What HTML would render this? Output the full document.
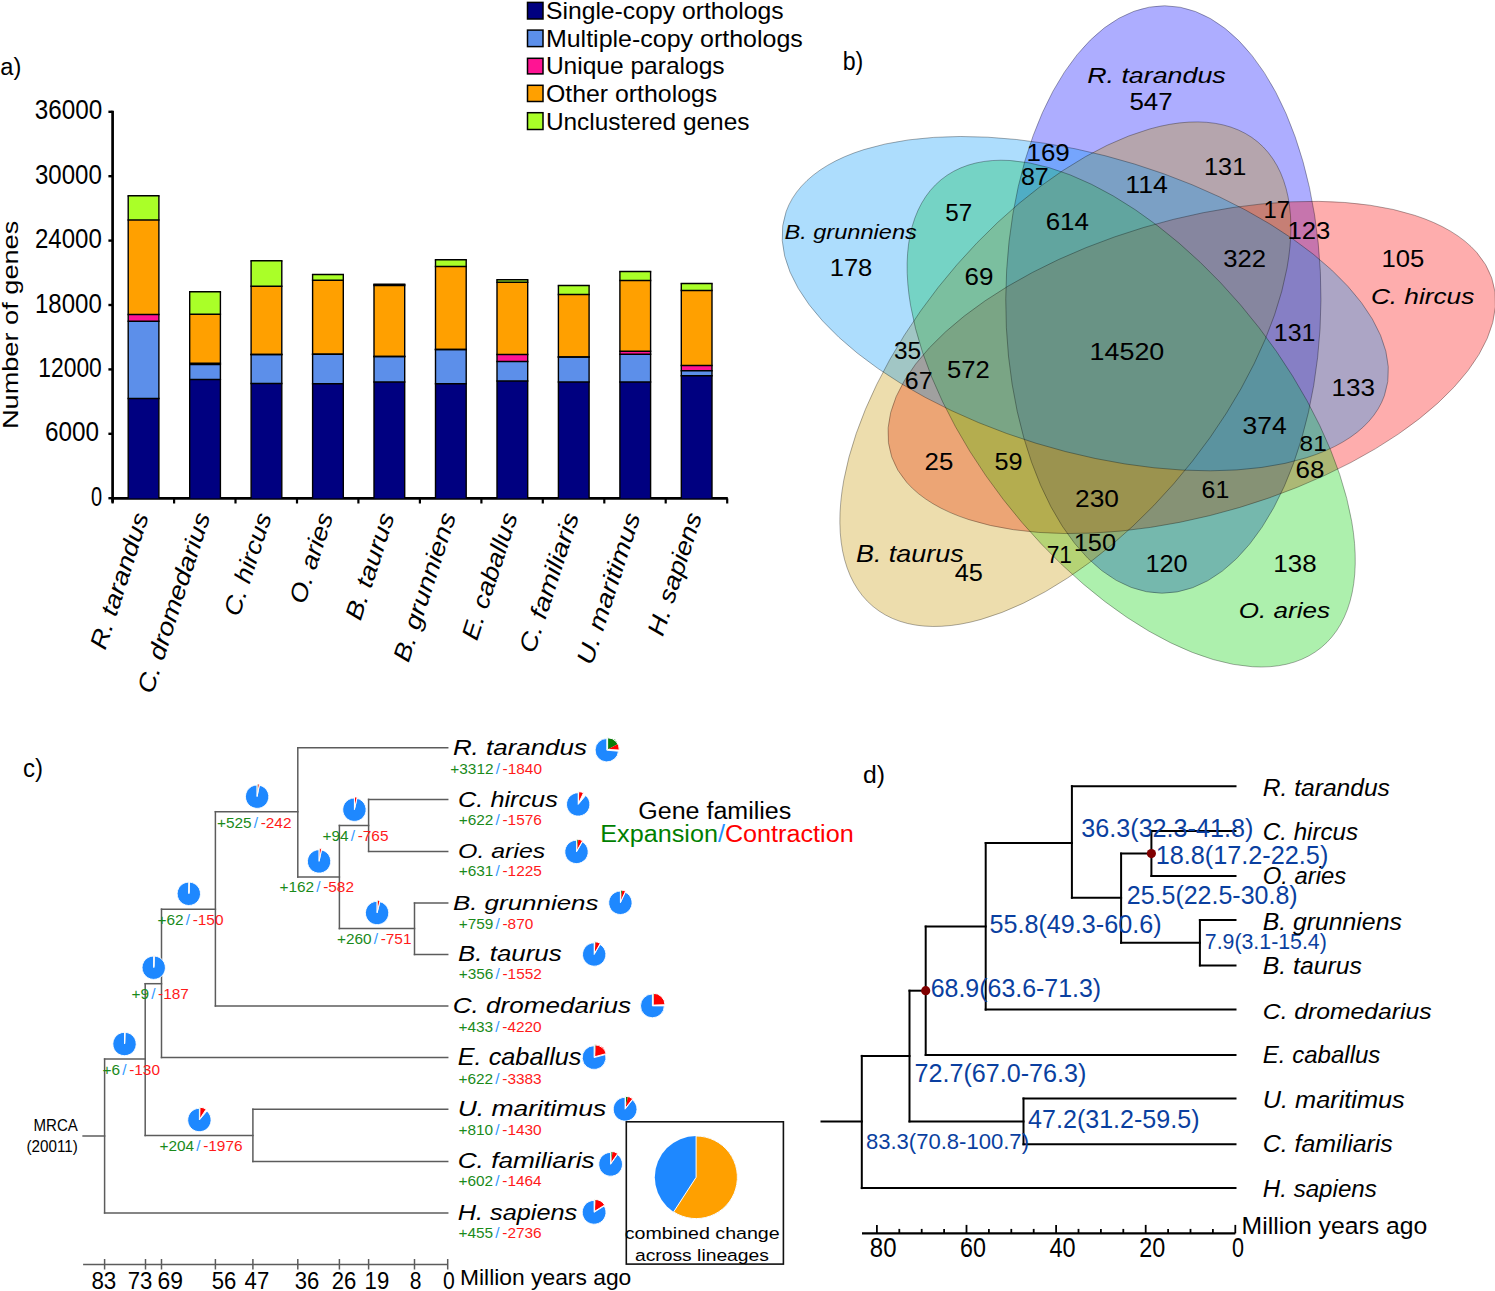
<!DOCTYPE html>
<html><head><meta charset="utf-8"><style>
html,body{margin:0;padding:0;background:#fff;}
svg{display:block;font-family:"Liberation Sans",sans-serif;}
</style></head><body>
<svg width="1495" height="1291" viewBox="0 0 1495 1291">
<rect width="1495" height="1291" fill="#fff"/>
<text x="0.3" y="75.3" font-size="24.83" fill="#000" style="" textLength="21.0" lengthAdjust="spacingAndGlyphs">a)</text>
<rect x="527.5" y="2.4" width="15.5" height="16.6" fill="#000080" stroke="#000" stroke-width="1.5"/>
<text x="545.9" y="19.2" font-size="23.60" fill="#000" style="" textLength="237.8" lengthAdjust="spacingAndGlyphs">Single-copy orthologs</text>
<rect x="527.5" y="30.1" width="15.5" height="16.5" fill="#5C8FEA" stroke="#000" stroke-width="1.5"/>
<text x="545.9" y="46.8" font-size="23.60" fill="#000" style="" textLength="256.9" lengthAdjust="spacingAndGlyphs">Multiple-copy orthologs</text>
<rect x="527.5" y="58.3" width="15.5" height="15.6" fill="#FF1493" stroke="#000" stroke-width="1.5"/>
<text x="545.9" y="74.1" font-size="23.60" fill="#000" style="" textLength="178.7" lengthAdjust="spacingAndGlyphs">Unique paralogs</text>
<rect x="527.5" y="85.3" width="15.5" height="16.2" fill="#FFA000" stroke="#000" stroke-width="1.5"/>
<text x="545.9" y="101.7" font-size="23.60" fill="#000" style="" textLength="171.4" lengthAdjust="spacingAndGlyphs">Other orthologs</text>
<rect x="527.5" y="112.7" width="15.5" height="16.8" fill="#AAFF28" stroke="#000" stroke-width="1.5"/>
<text x="545.9" y="129.7" font-size="23.60" fill="#000" style="" textLength="203.6" lengthAdjust="spacingAndGlyphs">Unclustered genes</text>
<line x1="112.6" y1="110.8" x2="112.6" y2="502.6" stroke="#000" stroke-width="2.7"/>
<line x1="108.4" y1="111.8" x2="112.6" y2="111.8" stroke="#000" stroke-width="2.4"/>
<line x1="108.4" y1="176.2" x2="112.6" y2="176.2" stroke="#000" stroke-width="2.4"/>
<line x1="108.4" y1="240.6" x2="112.6" y2="240.6" stroke="#000" stroke-width="2.4"/>
<line x1="108.4" y1="305.0" x2="112.6" y2="305.0" stroke="#000" stroke-width="2.4"/>
<line x1="108.4" y1="369.4" x2="112.6" y2="369.4" stroke="#000" stroke-width="2.4"/>
<line x1="108.4" y1="433.8" x2="112.6" y2="433.8" stroke="#000" stroke-width="2.4"/>
<line x1="108.4" y1="498.2" x2="112.6" y2="498.2" stroke="#000" stroke-width="2.4"/>
<text x="34.8" y="119.3" font-size="26.71" fill="#000" style="" textLength="67.5" lengthAdjust="spacingAndGlyphs">36000</text>
<text x="35.0" y="183.7" font-size="26.71" fill="#000" style="" textLength="66.8" lengthAdjust="spacingAndGlyphs">30000</text>
<text x="35.0" y="248.1" font-size="26.71" fill="#000" style="" textLength="66.8" lengthAdjust="spacingAndGlyphs">24000</text>
<text x="35.0" y="312.5" font-size="26.71" fill="#000" style="" textLength="66.8" lengthAdjust="spacingAndGlyphs">18000</text>
<text x="38.3" y="376.9" font-size="26.71" fill="#000" style="" textLength="63.5" lengthAdjust="spacingAndGlyphs">12000</text>
<text x="44.9" y="441.3" font-size="26.71" fill="#000" style="" textLength="54.0" lengthAdjust="spacingAndGlyphs">6000</text>
<text x="90.9" y="505.9" font-size="26.71" fill="#000" style="" textLength="11.1" lengthAdjust="spacingAndGlyphs">0</text>
<g transform="translate(17.8,429.1) rotate(-90)">
<text x="0.0" y="0.0" font-size="21.20" fill="#000" style="" textLength="208.4" lengthAdjust="spacingAndGlyphs">Number of genes</text>
</g>
<line x1="111.3" y1="498.4" x2="727.8" y2="498.4" stroke="#000" stroke-width="2.6"/>
<line x1="112.6" y1="498.4" x2="112.6" y2="503.5" stroke="#000" stroke-width="2.2"/>
<line x1="174.1" y1="498.4" x2="174.1" y2="503.5" stroke="#000" stroke-width="2.2"/>
<line x1="235.5" y1="498.4" x2="235.5" y2="503.5" stroke="#000" stroke-width="2.2"/>
<line x1="297.0" y1="498.4" x2="297.0" y2="503.5" stroke="#000" stroke-width="2.2"/>
<line x1="358.4" y1="498.4" x2="358.4" y2="503.5" stroke="#000" stroke-width="2.2"/>
<line x1="419.9" y1="498.4" x2="419.9" y2="503.5" stroke="#000" stroke-width="2.2"/>
<line x1="481.4" y1="498.4" x2="481.4" y2="503.5" stroke="#000" stroke-width="2.2"/>
<line x1="542.8" y1="498.4" x2="542.8" y2="503.5" stroke="#000" stroke-width="2.2"/>
<line x1="604.3" y1="498.4" x2="604.3" y2="503.5" stroke="#000" stroke-width="2.2"/>
<line x1="665.7" y1="498.4" x2="665.7" y2="503.5" stroke="#000" stroke-width="2.2"/>
<line x1="727.2" y1="498.4" x2="727.2" y2="503.5" stroke="#000" stroke-width="2.2"/>
<rect x="128.2" y="195.8" width="30.7" height="24.3" fill="#AAFF28"/>
<rect x="128.2" y="220.1" width="30.7" height="94.5" fill="#FFA000"/>
<rect x="128.2" y="314.6" width="30.7" height="6.7" fill="#FF1493"/>
<rect x="128.2" y="321.3" width="30.7" height="77.2" fill="#5C8FEA"/>
<rect x="128.2" y="398.5" width="30.7" height="99.9" fill="#000080"/>
<line x1="127.5" y1="195.8" x2="159.6" y2="195.8" stroke="#000" stroke-width="1.5"/>
<line x1="127.5" y1="220.1" x2="159.6" y2="220.1" stroke="#000" stroke-width="1.5"/>
<line x1="127.5" y1="314.6" x2="159.6" y2="314.6" stroke="#000" stroke-width="1.5"/>
<line x1="127.5" y1="321.3" x2="159.6" y2="321.3" stroke="#000" stroke-width="1.5"/>
<line x1="127.5" y1="398.5" x2="159.6" y2="398.5" stroke="#000" stroke-width="1.5"/>
<line x1="128.2" y1="195.8" x2="128.2" y2="498.4" stroke="#000" stroke-width="1.4"/>
<line x1="158.9" y1="195.8" x2="158.9" y2="498.4" stroke="#000" stroke-width="1.4"/>
<rect x="189.7" y="291.7" width="30.7" height="22.5" fill="#AAFF28"/>
<rect x="189.7" y="314.2" width="30.7" height="49.0" fill="#FFA000"/>
<rect x="189.7" y="363.2" width="30.7" height="1.4" fill="#FF1493"/>
<rect x="189.7" y="364.6" width="30.7" height="14.9" fill="#5C8FEA"/>
<rect x="189.7" y="379.5" width="30.7" height="118.9" fill="#000080"/>
<line x1="189.0" y1="291.7" x2="221.1" y2="291.7" stroke="#000" stroke-width="1.5"/>
<line x1="189.0" y1="314.2" x2="221.1" y2="314.2" stroke="#000" stroke-width="1.5"/>
<line x1="189.0" y1="363.2" x2="221.1" y2="363.2" stroke="#000" stroke-width="1.5"/>
<line x1="189.0" y1="364.6" x2="221.1" y2="364.6" stroke="#000" stroke-width="1.5"/>
<line x1="189.0" y1="379.5" x2="221.1" y2="379.5" stroke="#000" stroke-width="1.5"/>
<line x1="189.7" y1="291.7" x2="189.7" y2="498.4" stroke="#000" stroke-width="1.4"/>
<line x1="220.4" y1="291.7" x2="220.4" y2="498.4" stroke="#000" stroke-width="1.4"/>
<rect x="251.1" y="260.8" width="30.7" height="25.5" fill="#AAFF28"/>
<rect x="251.1" y="286.3" width="30.7" height="68.3" fill="#FFA000"/>
<rect x="251.1" y="354.6" width="30.7" height="28.9" fill="#5C8FEA"/>
<rect x="251.1" y="383.5" width="30.7" height="114.9" fill="#000080"/>
<line x1="250.4" y1="260.8" x2="282.5" y2="260.8" stroke="#000" stroke-width="1.5"/>
<line x1="250.4" y1="286.3" x2="282.5" y2="286.3" stroke="#000" stroke-width="1.5"/>
<line x1="250.4" y1="354.6" x2="282.5" y2="354.6" stroke="#000" stroke-width="1.5"/>
<line x1="250.4" y1="354.6" x2="282.5" y2="354.6" stroke="#000" stroke-width="1.5"/>
<line x1="250.4" y1="383.5" x2="282.5" y2="383.5" stroke="#000" stroke-width="1.5"/>
<line x1="251.1" y1="260.8" x2="251.1" y2="498.4" stroke="#000" stroke-width="1.4"/>
<line x1="281.8" y1="260.8" x2="281.8" y2="498.4" stroke="#000" stroke-width="1.4"/>
<rect x="312.6" y="274.6" width="30.7" height="5.6" fill="#AAFF28"/>
<rect x="312.6" y="280.2" width="30.7" height="74.1" fill="#FFA000"/>
<rect x="312.6" y="354.3" width="30.7" height="29.4" fill="#5C8FEA"/>
<rect x="312.6" y="383.7" width="30.7" height="114.7" fill="#000080"/>
<line x1="311.9" y1="274.6" x2="344.0" y2="274.6" stroke="#000" stroke-width="1.5"/>
<line x1="311.9" y1="280.2" x2="344.0" y2="280.2" stroke="#000" stroke-width="1.5"/>
<line x1="311.9" y1="354.3" x2="344.0" y2="354.3" stroke="#000" stroke-width="1.5"/>
<line x1="311.9" y1="354.3" x2="344.0" y2="354.3" stroke="#000" stroke-width="1.5"/>
<line x1="311.9" y1="383.7" x2="344.0" y2="383.7" stroke="#000" stroke-width="1.5"/>
<line x1="312.6" y1="274.6" x2="312.6" y2="498.4" stroke="#000" stroke-width="1.4"/>
<line x1="343.3" y1="274.6" x2="343.3" y2="498.4" stroke="#000" stroke-width="1.4"/>
<rect x="374.0" y="284.3" width="30.7" height="1.3" fill="#AAFF28"/>
<rect x="374.0" y="285.6" width="30.7" height="70.8" fill="#FFA000"/>
<rect x="374.0" y="356.4" width="30.7" height="25.5" fill="#5C8FEA"/>
<rect x="374.0" y="381.9" width="30.7" height="116.5" fill="#000080"/>
<line x1="373.3" y1="284.3" x2="405.4" y2="284.3" stroke="#000" stroke-width="1.5"/>
<line x1="373.3" y1="285.6" x2="405.4" y2="285.6" stroke="#000" stroke-width="1.5"/>
<line x1="373.3" y1="356.4" x2="405.4" y2="356.4" stroke="#000" stroke-width="1.5"/>
<line x1="373.3" y1="356.4" x2="405.4" y2="356.4" stroke="#000" stroke-width="1.5"/>
<line x1="373.3" y1="381.9" x2="405.4" y2="381.9" stroke="#000" stroke-width="1.5"/>
<line x1="374.0" y1="284.3" x2="374.0" y2="498.4" stroke="#000" stroke-width="1.4"/>
<line x1="404.7" y1="284.3" x2="404.7" y2="498.4" stroke="#000" stroke-width="1.4"/>
<rect x="435.5" y="259.8" width="30.7" height="6.6" fill="#AAFF28"/>
<rect x="435.5" y="266.4" width="30.7" height="83.1" fill="#FFA000"/>
<rect x="435.5" y="349.5" width="30.7" height="34.2" fill="#5C8FEA"/>
<rect x="435.5" y="383.7" width="30.7" height="114.7" fill="#000080"/>
<line x1="434.8" y1="259.8" x2="466.9" y2="259.8" stroke="#000" stroke-width="1.5"/>
<line x1="434.8" y1="266.4" x2="466.9" y2="266.4" stroke="#000" stroke-width="1.5"/>
<line x1="434.8" y1="349.5" x2="466.9" y2="349.5" stroke="#000" stroke-width="1.5"/>
<line x1="434.8" y1="349.5" x2="466.9" y2="349.5" stroke="#000" stroke-width="1.5"/>
<line x1="434.8" y1="383.7" x2="466.9" y2="383.7" stroke="#000" stroke-width="1.5"/>
<line x1="435.5" y1="259.8" x2="435.5" y2="498.4" stroke="#000" stroke-width="1.4"/>
<line x1="466.2" y1="259.8" x2="466.2" y2="498.4" stroke="#000" stroke-width="1.4"/>
<rect x="497.0" y="279.7" width="30.7" height="2.5" fill="#AAFF28"/>
<rect x="497.0" y="282.2" width="30.7" height="72.4" fill="#FFA000"/>
<rect x="497.0" y="354.6" width="30.7" height="6.9" fill="#FF1493"/>
<rect x="497.0" y="361.5" width="30.7" height="19.4" fill="#5C8FEA"/>
<rect x="497.0" y="380.9" width="30.7" height="117.5" fill="#000080"/>
<line x1="496.3" y1="279.7" x2="528.4" y2="279.7" stroke="#000" stroke-width="1.5"/>
<line x1="496.3" y1="282.2" x2="528.4" y2="282.2" stroke="#000" stroke-width="1.5"/>
<line x1="496.3" y1="354.6" x2="528.4" y2="354.6" stroke="#000" stroke-width="1.5"/>
<line x1="496.3" y1="361.5" x2="528.4" y2="361.5" stroke="#000" stroke-width="1.5"/>
<line x1="496.3" y1="380.9" x2="528.4" y2="380.9" stroke="#000" stroke-width="1.5"/>
<line x1="497.0" y1="279.7" x2="497.0" y2="498.4" stroke="#000" stroke-width="1.4"/>
<line x1="527.7" y1="279.7" x2="527.7" y2="498.4" stroke="#000" stroke-width="1.4"/>
<rect x="558.4" y="285.6" width="30.7" height="8.9" fill="#AAFF28"/>
<rect x="558.4" y="294.5" width="30.7" height="62.6" fill="#FFA000"/>
<rect x="558.4" y="357.1" width="30.7" height="24.9" fill="#5C8FEA"/>
<rect x="558.4" y="382.0" width="30.7" height="116.4" fill="#000080"/>
<line x1="557.7" y1="285.6" x2="589.8" y2="285.6" stroke="#000" stroke-width="1.5"/>
<line x1="557.7" y1="294.5" x2="589.8" y2="294.5" stroke="#000" stroke-width="1.5"/>
<line x1="557.7" y1="357.1" x2="589.8" y2="357.1" stroke="#000" stroke-width="1.5"/>
<line x1="557.7" y1="357.1" x2="589.8" y2="357.1" stroke="#000" stroke-width="1.5"/>
<line x1="557.7" y1="382.0" x2="589.8" y2="382.0" stroke="#000" stroke-width="1.5"/>
<line x1="558.4" y1="285.6" x2="558.4" y2="498.4" stroke="#000" stroke-width="1.4"/>
<line x1="589.1" y1="285.6" x2="589.1" y2="498.4" stroke="#000" stroke-width="1.4"/>
<rect x="619.9" y="271.5" width="30.7" height="9.0" fill="#AAFF28"/>
<rect x="619.9" y="280.5" width="30.7" height="70.8" fill="#FFA000"/>
<rect x="619.9" y="351.3" width="30.7" height="3.0" fill="#FF1493"/>
<rect x="619.9" y="354.3" width="30.7" height="27.7" fill="#5C8FEA"/>
<rect x="619.9" y="382.0" width="30.7" height="116.4" fill="#000080"/>
<line x1="619.2" y1="271.5" x2="651.3" y2="271.5" stroke="#000" stroke-width="1.5"/>
<line x1="619.2" y1="280.5" x2="651.3" y2="280.5" stroke="#000" stroke-width="1.5"/>
<line x1="619.2" y1="351.3" x2="651.3" y2="351.3" stroke="#000" stroke-width="1.5"/>
<line x1="619.2" y1="354.3" x2="651.3" y2="354.3" stroke="#000" stroke-width="1.5"/>
<line x1="619.2" y1="382.0" x2="651.3" y2="382.0" stroke="#000" stroke-width="1.5"/>
<line x1="619.9" y1="271.5" x2="619.9" y2="498.4" stroke="#000" stroke-width="1.4"/>
<line x1="650.6" y1="271.5" x2="650.6" y2="498.4" stroke="#000" stroke-width="1.4"/>
<rect x="681.3" y="283.5" width="30.7" height="6.9" fill="#AAFF28"/>
<rect x="681.3" y="290.4" width="30.7" height="75.2" fill="#FFA000"/>
<rect x="681.3" y="365.6" width="30.7" height="5.1" fill="#FF1493"/>
<rect x="681.3" y="370.7" width="30.7" height="5.1" fill="#5C8FEA"/>
<rect x="681.3" y="375.8" width="30.7" height="122.6" fill="#000080"/>
<line x1="680.6" y1="283.5" x2="712.7" y2="283.5" stroke="#000" stroke-width="1.5"/>
<line x1="680.6" y1="290.4" x2="712.7" y2="290.4" stroke="#000" stroke-width="1.5"/>
<line x1="680.6" y1="365.6" x2="712.7" y2="365.6" stroke="#000" stroke-width="1.5"/>
<line x1="680.6" y1="370.7" x2="712.7" y2="370.7" stroke="#000" stroke-width="1.5"/>
<line x1="680.6" y1="375.8" x2="712.7" y2="375.8" stroke="#000" stroke-width="1.5"/>
<line x1="681.3" y1="283.5" x2="681.3" y2="498.4" stroke="#000" stroke-width="1.4"/>
<line x1="712.0" y1="283.5" x2="712.0" y2="498.4" stroke="#000" stroke-width="1.4"/>
<text x="0" y="0" font-size="24.2" style="font-style:italic" text-anchor="end" textLength="141.7" lengthAdjust="spacingAndGlyphs" transform="translate(149.0,516.0) rotate(-72)">R. tarandus</text>
<text x="0" y="0" font-size="24.2" style="font-style:italic" text-anchor="end" textLength="188.0" lengthAdjust="spacingAndGlyphs" transform="translate(210.5,516.0) rotate(-72)">C. dromedarius</text>
<text x="0" y="0" font-size="24.2" style="font-style:italic" text-anchor="end" textLength="106.8" lengthAdjust="spacingAndGlyphs" transform="translate(271.9,516.0) rotate(-72)">C. hircus</text>
<text x="0" y="0" font-size="24.2" style="font-style:italic" text-anchor="end" textLength="93.6" lengthAdjust="spacingAndGlyphs" transform="translate(333.4,516.0) rotate(-72)">O. aries</text>
<text x="0" y="0" font-size="24.2" style="font-style:italic" text-anchor="end" textLength="110.9" lengthAdjust="spacingAndGlyphs" transform="translate(394.8,516.0) rotate(-72)">B. taurus</text>
<text x="0" y="0" font-size="24.2" style="font-style:italic" text-anchor="end" textLength="154.8" lengthAdjust="spacingAndGlyphs" transform="translate(456.3,516.0) rotate(-72)">B. grunniens</text>
<text x="0" y="0" font-size="24.2" style="font-style:italic" text-anchor="end" textLength="132.0" lengthAdjust="spacingAndGlyphs" transform="translate(517.8,516.0) rotate(-72)">E. caballus</text>
<text x="0" y="0" font-size="24.2" style="font-style:italic" text-anchor="end" textLength="145.3" lengthAdjust="spacingAndGlyphs" transform="translate(579.2,516.0) rotate(-72)">C. familiaris</text>
<text x="0" y="0" font-size="24.2" style="font-style:italic" text-anchor="end" textLength="157.8" lengthAdjust="spacingAndGlyphs" transform="translate(640.7,516.0) rotate(-72)">U. maritimus</text>
<text x="0" y="0" font-size="24.2" style="font-style:italic" text-anchor="end" textLength="127.5" lengthAdjust="spacingAndGlyphs" transform="translate(702.1,516.0) rotate(-72)">H. sapiens</text>
<text x="842.7" y="69.9" font-size="25.24" fill="#000" style="" textLength="20.6" lengthAdjust="spacingAndGlyphs">b)</text>
<g transform="translate(1127.38,351.68) scale(1.0724,1)">
<ellipse cx="0" cy="0" rx="146.96" ry="293.73" transform="translate(33.54,-52.20) rotate(0.26)" fill="#0000FF" fill-opacity="0.32"/>
<ellipse cx="0" cy="0" rx="146.96" ry="293.73" transform="translate(60.01,15.77) rotate(72.26)" fill="#FB0000" fill-opacity="0.32"/>
<ellipse cx="0" cy="0" rx="146.96" ry="293.73" transform="translate(3.55,61.94) rotate(144.26)" fill="#00D000" fill-opacity="0.32"/>
<ellipse cx="0" cy="0" rx="146.96" ry="293.73" transform="translate(-57.82,22.52) rotate(216.26)" fill="#C89500" fill-opacity="0.32"/>
<ellipse cx="0" cy="0" rx="146.96" ry="293.73" transform="translate(-39.28,-48.03) rotate(288.26)" fill="#0094F8" fill-opacity="0.32"/>
<ellipse cx="0" cy="0" rx="146.96" ry="293.73" transform="translate(33.54,-52.20) rotate(0.26)" fill="none" stroke="#000" stroke-opacity="0.4" stroke-width="0.8" vector-effect="non-scaling-stroke"/>
<ellipse cx="0" cy="0" rx="146.96" ry="293.73" transform="translate(60.01,15.77) rotate(72.26)" fill="none" stroke="#000" stroke-opacity="0.4" stroke-width="0.8" vector-effect="non-scaling-stroke"/>
<ellipse cx="0" cy="0" rx="146.96" ry="293.73" transform="translate(3.55,61.94) rotate(144.26)" fill="none" stroke="#000" stroke-opacity="0.4" stroke-width="0.8" vector-effect="non-scaling-stroke"/>
<ellipse cx="0" cy="0" rx="146.96" ry="293.73" transform="translate(-57.82,22.52) rotate(216.26)" fill="none" stroke="#000" stroke-opacity="0.4" stroke-width="0.8" vector-effect="non-scaling-stroke"/>
<ellipse cx="0" cy="0" rx="146.96" ry="293.73" transform="translate(-39.28,-48.03) rotate(288.26)" fill="none" stroke="#000" stroke-opacity="0.4" stroke-width="0.8" vector-effect="non-scaling-stroke"/>
</g>
<text x="1087.2" y="82.5" font-size="22.21" fill="#000" style="font-style:italic;" textLength="138.5" lengthAdjust="spacingAndGlyphs">R. tarandus</text>
<text x="1129.4" y="110.2" font-size="23.84" fill="#000" style="" textLength="43.3" lengthAdjust="spacingAndGlyphs">547</text>
<text x="1026.5" y="160.5" font-size="23.50" fill="#000" style="" textLength="43.3" lengthAdjust="spacingAndGlyphs">169</text>
<text x="1020.9" y="184.5" font-size="24.07" fill="#000" style="" textLength="27.9" lengthAdjust="spacingAndGlyphs">87</text>
<text x="945.3" y="220.7" font-size="23.84" fill="#000" style="" textLength="27.0" lengthAdjust="spacingAndGlyphs">57</text>
<text x="784.4" y="239.2" font-size="20.00" fill="#000" style="font-style:italic;" textLength="132.5" lengthAdjust="spacingAndGlyphs">B. grunniens</text>
<text x="829.7" y="276.0" font-size="23.35" fill="#000" style="" textLength="42.6" lengthAdjust="spacingAndGlyphs">178</text>
<text x="1045.7" y="230.0" font-size="23.78" fill="#000" style="" textLength="43.3" lengthAdjust="spacingAndGlyphs">614</text>
<text x="964.6" y="285.0" font-size="24.21" fill="#000" style="" textLength="28.9" lengthAdjust="spacingAndGlyphs">69</text>
<text x="894.0" y="359.1" font-size="23.50" fill="#000" style="" textLength="27.2" lengthAdjust="spacingAndGlyphs">35</text>
<text x="904.8" y="388.5" font-size="23.07" fill="#000" style="" textLength="27.7" lengthAdjust="spacingAndGlyphs">67</text>
<text x="947.0" y="377.7" font-size="24.21" fill="#000" style="" textLength="42.8" lengthAdjust="spacingAndGlyphs">572</text>
<text x="1204.0" y="174.7" font-size="23.35" fill="#000" style="" textLength="42.2" lengthAdjust="spacingAndGlyphs">131</text>
<text x="1125.3" y="193.3" font-size="24.56" fill="#000" style="" textLength="42.6" lengthAdjust="spacingAndGlyphs">114</text>
<text x="1263.5" y="217.8" font-size="23.40" fill="#000" style="" textLength="26.5" lengthAdjust="spacingAndGlyphs">17</text>
<text x="1287.6" y="239.0" font-size="23.78" fill="#000" style="" textLength="42.8" lengthAdjust="spacingAndGlyphs">123</text>
<text x="1223.3" y="267.2" font-size="24.21" fill="#000" style="" textLength="42.8" lengthAdjust="spacingAndGlyphs">322</text>
<text x="1381.5" y="266.7" font-size="23.50" fill="#000" style="" textLength="42.8" lengthAdjust="spacingAndGlyphs">105</text>
<text x="1370.9" y="304.4" font-size="22.21" fill="#000" style="font-style:italic;" textLength="103.4" lengthAdjust="spacingAndGlyphs">C. hircus</text>
<text x="1273.8" y="341.4" font-size="24.21" fill="#000" style="" textLength="41.7" lengthAdjust="spacingAndGlyphs">131</text>
<text x="1089.6" y="359.6" font-size="23.21" fill="#000" style="" textLength="74.7" lengthAdjust="spacingAndGlyphs">14520</text>
<text x="1331.6" y="396.4" font-size="23.50" fill="#000" style="" textLength="43.4" lengthAdjust="spacingAndGlyphs">133</text>
<text x="1242.5" y="433.5" font-size="24.21" fill="#000" style="" textLength="44.1" lengthAdjust="spacingAndGlyphs">374</text>
<text x="1299.6" y="451.0" font-size="22.35" fill="#000" style="" textLength="27.2" lengthAdjust="spacingAndGlyphs">81</text>
<text x="1295.5" y="478.3" font-size="23.50" fill="#000" style="" textLength="28.9" lengthAdjust="spacingAndGlyphs">68</text>
<text x="1201.6" y="497.5" font-size="23.35" fill="#000" style="" textLength="27.7" lengthAdjust="spacingAndGlyphs">61</text>
<text x="1075.1" y="506.7" font-size="23.50" fill="#000" style="" textLength="43.9" lengthAdjust="spacingAndGlyphs">230</text>
<text x="924.6" y="469.8" font-size="23.35" fill="#000" style="" textLength="28.7" lengthAdjust="spacingAndGlyphs">25</text>
<text x="994.5" y="469.8" font-size="23.35" fill="#000" style="" textLength="28.1" lengthAdjust="spacingAndGlyphs">59</text>
<text x="1073.7" y="551.2" font-size="23.50" fill="#000" style="" textLength="42.4" lengthAdjust="spacingAndGlyphs">150</text>
<text x="1046.7" y="562.5" font-size="24.42" fill="#000" style="" textLength="25.3" lengthAdjust="spacingAndGlyphs">71</text>
<text x="856.0" y="561.8" font-size="23.40" fill="#000" style="font-style:italic;" textLength="107.6" lengthAdjust="spacingAndGlyphs">B. taurus</text>
<text x="954.7" y="581.1" font-size="23.40" fill="#000" style="" textLength="28.2" lengthAdjust="spacingAndGlyphs">45</text>
<text x="1145.4" y="572.2" font-size="24.21" fill="#000" style="" textLength="42.2" lengthAdjust="spacingAndGlyphs">120</text>
<text x="1273.3" y="571.7" font-size="23.50" fill="#000" style="" textLength="43.3" lengthAdjust="spacingAndGlyphs">138</text>
<text x="1238.8" y="618.4" font-size="22.21" fill="#000" style="font-style:italic;" textLength="91.1" lengthAdjust="spacingAndGlyphs">O. aries</text>
<text x="23.1" y="776.9" font-size="25.38" fill="#000" style="" textLength="20.0" lengthAdjust="spacingAndGlyphs">c)</text>
<line x1="297.8" y1="747.7" x2="447.7" y2="747.7" stroke="#5c5c5c" stroke-width="1.5" stroke-linecap="square"/>
<line x1="297.8" y1="747.7" x2="297.8" y2="876.9" stroke="#5c5c5c" stroke-width="1.5" stroke-linecap="square"/>
<line x1="297.8" y1="876.9" x2="339.4" y2="876.9" stroke="#5c5c5c" stroke-width="1.5" stroke-linecap="square"/>
<line x1="339.4" y1="825.5" x2="339.4" y2="928.6" stroke="#5c5c5c" stroke-width="1.5" stroke-linecap="square"/>
<line x1="339.4" y1="825.5" x2="368.6" y2="825.5" stroke="#5c5c5c" stroke-width="1.5" stroke-linecap="square"/>
<line x1="368.6" y1="799.4" x2="368.6" y2="851.4" stroke="#5c5c5c" stroke-width="1.5" stroke-linecap="square"/>
<line x1="368.6" y1="799.4" x2="447.7" y2="799.4" stroke="#5c5c5c" stroke-width="1.5" stroke-linecap="square"/>
<line x1="368.6" y1="851.4" x2="447.7" y2="851.4" stroke="#5c5c5c" stroke-width="1.5" stroke-linecap="square"/>
<line x1="339.4" y1="928.6" x2="414.5" y2="928.6" stroke="#5c5c5c" stroke-width="1.5" stroke-linecap="square"/>
<line x1="414.5" y1="903.1" x2="414.5" y2="954.5" stroke="#5c5c5c" stroke-width="1.5" stroke-linecap="square"/>
<line x1="414.5" y1="903.1" x2="447.7" y2="903.1" stroke="#5c5c5c" stroke-width="1.5" stroke-linecap="square"/>
<line x1="414.5" y1="954.5" x2="447.7" y2="954.5" stroke="#5c5c5c" stroke-width="1.5" stroke-linecap="square"/>
<line x1="215.4" y1="811.7" x2="215.4" y2="1006.0" stroke="#5c5c5c" stroke-width="1.5" stroke-linecap="square"/>
<line x1="215.4" y1="811.7" x2="297.8" y2="811.7" stroke="#5c5c5c" stroke-width="1.5" stroke-linecap="square"/>
<line x1="215.4" y1="1006.0" x2="447.7" y2="1006.0" stroke="#5c5c5c" stroke-width="1.5" stroke-linecap="square"/>
<line x1="161.5" y1="909.2" x2="215.4" y2="909.2" stroke="#5c5c5c" stroke-width="1.5" stroke-linecap="square"/>
<line x1="161.5" y1="909.2" x2="161.5" y2="1057.5" stroke="#5c5c5c" stroke-width="1.5" stroke-linecap="square"/>
<line x1="161.5" y1="1057.5" x2="447.7" y2="1057.5" stroke="#5c5c5c" stroke-width="1.5" stroke-linecap="square"/>
<line x1="145.2" y1="983.7" x2="161.5" y2="983.7" stroke="#5c5c5c" stroke-width="1.5" stroke-linecap="square"/>
<line x1="145.2" y1="983.7" x2="145.2" y2="1135.4" stroke="#5c5c5c" stroke-width="1.5" stroke-linecap="square"/>
<line x1="145.2" y1="1135.4" x2="252.9" y2="1135.4" stroke="#5c5c5c" stroke-width="1.5" stroke-linecap="square"/>
<line x1="252.9" y1="1109.2" x2="252.9" y2="1161.5" stroke="#5c5c5c" stroke-width="1.5" stroke-linecap="square"/>
<line x1="252.9" y1="1109.2" x2="447.7" y2="1109.2" stroke="#5c5c5c" stroke-width="1.5" stroke-linecap="square"/>
<line x1="252.9" y1="1161.5" x2="447.7" y2="1161.5" stroke="#5c5c5c" stroke-width="1.5" stroke-linecap="square"/>
<line x1="104.6" y1="1059.1" x2="145.2" y2="1059.1" stroke="#5c5c5c" stroke-width="1.5" stroke-linecap="square"/>
<line x1="104.6" y1="1059.1" x2="104.6" y2="1212.9" stroke="#5c5c5c" stroke-width="1.5" stroke-linecap="square"/>
<line x1="104.6" y1="1212.9" x2="447.7" y2="1212.9" stroke="#5c5c5c" stroke-width="1.5" stroke-linecap="square"/>
<line x1="83.1" y1="1136.0" x2="104.6" y2="1136.0" stroke="#5c5c5c" stroke-width="1.5" stroke-linecap="square"/>
<line x1="83.1" y1="1264.6" x2="447.7" y2="1264.6" stroke="#5c5c5c" stroke-width="1.5"/>
<line x1="104.6" y1="1259.0" x2="104.6" y2="1269.5" stroke="#5c5c5c" stroke-width="1.5"/>
<line x1="145.5" y1="1259.0" x2="145.5" y2="1269.5" stroke="#5c5c5c" stroke-width="1.5"/>
<line x1="161.5" y1="1259.0" x2="161.5" y2="1269.5" stroke="#5c5c5c" stroke-width="1.5"/>
<line x1="215.4" y1="1259.0" x2="215.4" y2="1269.5" stroke="#5c5c5c" stroke-width="1.5"/>
<line x1="252.9" y1="1259.0" x2="252.9" y2="1269.5" stroke="#5c5c5c" stroke-width="1.5"/>
<line x1="297.8" y1="1259.0" x2="297.8" y2="1269.5" stroke="#5c5c5c" stroke-width="1.5"/>
<line x1="339.4" y1="1259.0" x2="339.4" y2="1269.5" stroke="#5c5c5c" stroke-width="1.5"/>
<line x1="368.6" y1="1259.0" x2="368.6" y2="1269.5" stroke="#5c5c5c" stroke-width="1.5"/>
<line x1="414.5" y1="1259.0" x2="414.5" y2="1269.5" stroke="#5c5c5c" stroke-width="1.5"/>
<line x1="447.7" y1="1259.0" x2="447.7" y2="1269.5" stroke="#5c5c5c" stroke-width="1.5"/>
<text x="91.4" y="1289.2" font-size="23.71" fill="#000" style="" textLength="24.9" lengthAdjust="spacingAndGlyphs">83</text>
<text x="127.7" y="1289.2" font-size="23.71" fill="#000" style="" textLength="24.6" lengthAdjust="spacingAndGlyphs">73</text>
<text x="157.5" y="1289.2" font-size="23.71" fill="#000" style="" textLength="25.5" lengthAdjust="spacingAndGlyphs">69</text>
<text x="211.7" y="1289.2" font-size="23.71" fill="#000" style="" textLength="24.6" lengthAdjust="spacingAndGlyphs">56</text>
<text x="244.6" y="1289.2" font-size="23.71" fill="#000" style="" textLength="24.6" lengthAdjust="spacingAndGlyphs">47</text>
<text x="294.8" y="1289.2" font-size="23.71" fill="#000" style="" textLength="24.6" lengthAdjust="spacingAndGlyphs">36</text>
<text x="331.7" y="1289.2" font-size="23.71" fill="#000" style="" textLength="24.6" lengthAdjust="spacingAndGlyphs">26</text>
<text x="364.6" y="1289.2" font-size="23.71" fill="#000" style="" textLength="24.6" lengthAdjust="spacingAndGlyphs">19</text>
<text x="409.8" y="1289.2" font-size="23.71" fill="#000" style="" textLength="11.7" lengthAdjust="spacingAndGlyphs">8</text>
<text x="443.0" y="1289.2" font-size="23.71" fill="#000" style="" textLength="11.8" lengthAdjust="spacingAndGlyphs">0</text>
<text x="460.0" y="1284.7" font-size="21.66" fill="#000" style="" textLength="171.3" lengthAdjust="spacingAndGlyphs">Million years ago</text>
<text x="33.5" y="1130.8" font-size="16.05" fill="#000" style="" textLength="44.3" lengthAdjust="spacingAndGlyphs">MRCA</text>
<text x="26.5" y="1151.9" font-size="15.59" fill="#000" style="" textLength="51.3" lengthAdjust="spacingAndGlyphs">(20011)</text>
<text x="452.9" y="755.2" font-size="21.93" fill="#000" style="font-style:italic;" textLength="134.0" lengthAdjust="spacingAndGlyphs">R. tarandus</text>
<text x="450.3" y="773.6" font-size="15.4"><tspan fill="#1A8A1A">+3312</tspan><tspan fill="#3399FF" dx="2.2">/</tspan><tspan fill="#FF1A1A" dx="2.6">-1840</tspan></text>
<text x="458.1" y="806.5" font-size="21.38" fill="#000" style="font-style:italic;" textLength="99.7" lengthAdjust="spacingAndGlyphs">C. hircus</text>
<text x="458.7" y="824.9" font-size="15.4"><tspan fill="#1A8A1A">+622</tspan><tspan fill="#3399FF" dx="2.2">/</tspan><tspan fill="#FF1A1A" dx="2.6">-1576</tspan></text>
<text x="458.1" y="858.2" font-size="21.10" fill="#000" style="font-style:italic;" textLength="87.1" lengthAdjust="spacingAndGlyphs">O. aries</text>
<text x="458.7" y="876.2" font-size="15.4"><tspan fill="#1A8A1A">+631</tspan><tspan fill="#3399FF" dx="2.2">/</tspan><tspan fill="#FF1A1A" dx="2.6">-1225</tspan></text>
<text x="452.9" y="909.7" font-size="20.00" fill="#000" style="font-style:italic;" textLength="145.6" lengthAdjust="spacingAndGlyphs">B. grunniens</text>
<text x="458.7" y="928.5" font-size="15.4"><tspan fill="#1A8A1A">+759</tspan><tspan fill="#3399FF" dx="2.2">/</tspan><tspan fill="#FF1A1A" dx="2.6">-870</tspan></text>
<text x="458.1" y="961.4" font-size="21.66" fill="#000" style="font-style:italic;" textLength="103.6" lengthAdjust="spacingAndGlyphs">B. taurus</text>
<text x="458.7" y="978.8" font-size="15.4"><tspan fill="#1A8A1A">+356</tspan><tspan fill="#3399FF" dx="2.2">/</tspan><tspan fill="#FF1A1A" dx="2.6">-1552</tspan></text>
<text x="452.8" y="1012.7" font-size="22.90" fill="#000" style="font-style:italic;" textLength="178.2" lengthAdjust="spacingAndGlyphs">C. dromedarius</text>
<text x="458.5" y="1032.0" font-size="15.4"><tspan fill="#1A8A1A">+433</tspan><tspan fill="#3399FF" dx="2.2">/</tspan><tspan fill="#FF1A1A" dx="2.6">-4220</tspan></text>
<text x="457.7" y="1064.9" font-size="23.17" fill="#000" style="font-style:italic;" textLength="123.8" lengthAdjust="spacingAndGlyphs">E. caballus</text>
<text x="458.5" y="1083.5" font-size="15.4"><tspan fill="#1A8A1A">+622</tspan><tspan fill="#3399FF" dx="2.2">/</tspan><tspan fill="#FF1A1A" dx="2.6">-3383</tspan></text>
<text x="457.7" y="1116.1" font-size="22.21" fill="#000" style="font-style:italic;" textLength="148.5" lengthAdjust="spacingAndGlyphs">U. maritimus</text>
<text x="458.5" y="1134.7" font-size="15.4"><tspan fill="#1A8A1A">+810</tspan><tspan fill="#3399FF" dx="2.2">/</tspan><tspan fill="#FF1A1A" dx="2.6">-1430</tspan></text>
<text x="457.7" y="1168.1" font-size="22.21" fill="#000" style="font-style:italic;" textLength="136.9" lengthAdjust="spacingAndGlyphs">C. familiaris</text>
<text x="458.5" y="1185.9" font-size="15.4"><tspan fill="#1A8A1A">+602</tspan><tspan fill="#3399FF" dx="2.2">/</tspan><tspan fill="#FF1A1A" dx="2.6">-1464</tspan></text>
<text x="457.7" y="1220.1" font-size="22.21" fill="#000" style="font-style:italic;" textLength="119.6" lengthAdjust="spacingAndGlyphs">H. sapiens</text>
<text x="458.5" y="1237.9" font-size="15.4"><tspan fill="#1A8A1A">+455</tspan><tspan fill="#3399FF" dx="2.2">/</tspan><tspan fill="#FF1A1A" dx="2.6">-2736</tspan></text>
<text x="216.9" y="827.7" font-size="15.4"><tspan fill="#1A8A1A">+525</tspan><tspan fill="#3399FF" dx="2.2">/</tspan><tspan fill="#FF1A1A" dx="2.6">-242</tspan></text>
<text x="322.5" y="840.6" font-size="15.4"><tspan fill="#1A8A1A">+94</tspan><tspan fill="#3399FF" dx="2.2">/</tspan><tspan fill="#FF1A1A" dx="2.6">-765</tspan></text>
<text x="279.4" y="891.7" font-size="15.4"><tspan fill="#1A8A1A">+162</tspan><tspan fill="#3399FF" dx="2.2">/</tspan><tspan fill="#FF1A1A" dx="2.6">-582</tspan></text>
<text x="157.5" y="924.6" font-size="15.4"><tspan fill="#1A8A1A">+62</tspan><tspan fill="#3399FF" dx="2.2">/</tspan><tspan fill="#FF1A1A" dx="2.6">-150</tspan></text>
<text x="336.9" y="943.7" font-size="15.4"><tspan fill="#1A8A1A">+260</tspan><tspan fill="#3399FF" dx="2.2">/</tspan><tspan fill="#FF1A1A" dx="2.6">-751</tspan></text>
<text x="131.4" y="998.5" font-size="15.4"><tspan fill="#1A8A1A">+9</tspan><tspan fill="#3399FF" dx="2.2">/</tspan><tspan fill="#FF1A1A" dx="2.6">-187</tspan></text>
<text x="102.5" y="1074.5" font-size="15.4"><tspan fill="#1A8A1A">+6</tspan><tspan fill="#3399FF" dx="2.2">/</tspan><tspan fill="#FF1A1A" dx="2.6">-130</tspan></text>
<text x="159.4" y="1150.8" font-size="15.4"><tspan fill="#1A8A1A">+204</tspan><tspan fill="#3399FF" dx="2.2">/</tspan><tspan fill="#FF1A1A" dx="2.6">-1976</tspan></text>
<path d="M606.80,750.20 L618.46,751.22 A11.70,11.70 0 1 1 606.80,738.50 Z" fill="#1E88FF" stroke="#fff" stroke-width="0.9" stroke-linejoin="round"/>
<path d="M607.61,749.46 L607.61,737.76 A11.70,11.70 0 0 1 617.94,743.96 Z" fill="#0A7D0A" stroke="none" stroke-width="1.0" stroke-linejoin="round"/>
<path d="M607.61,749.46 L617.94,743.96 A11.70,11.70 0 0 1 619.29,750.07 Z" fill="#FF0000" stroke="none" stroke-width="1.0" stroke-linejoin="round"/>
<path d="M607.61,749.46 L607.61,737.76 A11.70,11.70 0 0 1 619.29,750.07 Z" fill="none" stroke="#fff" stroke-width="1.0" stroke-linejoin="round"/>
<path d="M578.20,804.40 L585.72,795.44 A11.70,11.70 0 1 1 578.20,792.70 Z" fill="#1E88FF" stroke="#fff" stroke-width="0.9" stroke-linejoin="round"/>
<path d="M578.58,803.37 L578.58,791.67 A11.70,11.70 0 0 1 579.19,791.68 Z" fill="#0A7D0A" stroke="none" stroke-width="1.0" stroke-linejoin="round"/>
<path d="M578.58,803.37 L579.19,791.68 A11.70,11.70 0 0 1 583.52,792.76 Z" fill="#FF0000" stroke="none" stroke-width="1.0" stroke-linejoin="round"/>
<path d="M578.58,803.37 L578.58,791.67 A11.70,11.70 0 0 1 583.52,792.76 Z" fill="none" stroke="#fff" stroke-width="1.0" stroke-linejoin="round"/>
<path d="M576.50,851.90 L582.35,841.77 A11.70,11.70 0 1 1 576.50,840.20 Z" fill="#1E88FF" stroke="#fff" stroke-width="0.9" stroke-linejoin="round"/>
<path d="M576.78,850.84 L576.78,839.14 A11.70,11.70 0 0 1 578.41,839.25 Z" fill="#0A7D0A" stroke="none" stroke-width="1.0" stroke-linejoin="round"/>
<path d="M576.78,850.84 L578.41,839.25 A11.70,11.70 0 0 1 582.63,840.70 Z" fill="#FF0000" stroke="none" stroke-width="1.0" stroke-linejoin="round"/>
<path d="M576.78,850.84 L576.78,839.14 A11.70,11.70 0 0 1 582.63,840.70 Z" fill="none" stroke="#fff" stroke-width="1.0" stroke-linejoin="round"/>
<path d="M620.40,902.80 L625.34,892.20 A11.70,11.70 0 1 1 620.40,891.10 Z" fill="#1E88FF" stroke="#fff" stroke-width="0.9" stroke-linejoin="round"/>
<path d="M620.64,901.73 L620.64,890.03 A11.70,11.70 0 0 1 622.27,890.14 Z" fill="#0A7D0A" stroke="none" stroke-width="1.0" stroke-linejoin="round"/>
<path d="M620.64,901.73 L622.27,890.14 A11.70,11.70 0 0 1 625.58,891.12 Z" fill="#FF0000" stroke="none" stroke-width="1.0" stroke-linejoin="round"/>
<path d="M620.64,901.73 L620.64,890.03 A11.70,11.70 0 0 1 625.58,891.12 Z" fill="none" stroke="#fff" stroke-width="1.0" stroke-linejoin="round"/>
<path d="M594.20,954.50 L600.05,944.37 A11.70,11.70 0 1 1 594.20,942.80 Z" fill="#1E88FF" stroke="#fff" stroke-width="0.9" stroke-linejoin="round"/>
<path d="M594.48,953.44 L594.48,941.74 A11.70,11.70 0 0 1 595.71,941.80 Z" fill="#0A7D0A" stroke="none" stroke-width="1.0" stroke-linejoin="round"/>
<path d="M594.48,953.44 L595.71,941.80 A11.70,11.70 0 0 1 600.33,943.30 Z" fill="#FF0000" stroke="none" stroke-width="1.0" stroke-linejoin="round"/>
<path d="M594.48,953.44 L594.48,941.74 A11.70,11.70 0 0 1 600.33,943.30 Z" fill="none" stroke="#fff" stroke-width="1.0" stroke-linejoin="round"/>
<path d="M652.40,1005.90 L664.30,1005.90 A11.90,11.90 0 1 1 652.40,994.00 Z" fill="#1E88FF" stroke="#fff" stroke-width="0.9" stroke-linejoin="round"/>
<path d="M653.18,1005.12 L653.18,993.22 A11.90,11.90 0 0 1 654.21,993.27 Z" fill="#0A7D0A" stroke="none" stroke-width="1.0" stroke-linejoin="round"/>
<path d="M653.18,1005.12 L654.21,993.27 A11.90,11.90 0 0 1 665.07,1004.71 Z" fill="#FF0000" stroke="none" stroke-width="1.0" stroke-linejoin="round"/>
<path d="M653.18,1005.12 L653.18,993.22 A11.90,11.90 0 0 1 665.07,1004.71 Z" fill="none" stroke="#fff" stroke-width="1.0" stroke-linejoin="round"/>
<path d="M594.10,1057.60 L605.59,1054.52 A11.90,11.90 0 1 1 594.10,1045.70 Z" fill="#1E88FF" stroke="#fff" stroke-width="0.9" stroke-linejoin="round"/>
<path d="M594.77,1056.73 L594.77,1044.83 A11.90,11.90 0 0 1 595.81,1044.87 Z" fill="#0A7D0A" stroke="none" stroke-width="1.0" stroke-linejoin="round"/>
<path d="M594.77,1056.73 L595.81,1044.87 A11.90,11.90 0 0 1 606.26,1053.65 Z" fill="#FF0000" stroke="none" stroke-width="1.0" stroke-linejoin="round"/>
<path d="M594.77,1056.73 L594.77,1044.83 A11.90,11.90 0 0 1 606.26,1053.65 Z" fill="none" stroke="#fff" stroke-width="1.0" stroke-linejoin="round"/>
<path d="M625.10,1109.20 L632.43,1099.82 A11.90,11.90 0 1 1 625.10,1097.30 Z" fill="#1E88FF" stroke="#fff" stroke-width="0.9" stroke-linejoin="round"/>
<path d="M625.46,1108.16 L625.46,1096.26 A11.90,11.90 0 0 1 627.93,1096.52 Z" fill="#0A7D0A" stroke="none" stroke-width="1.0" stroke-linejoin="round"/>
<path d="M625.46,1108.16 L627.93,1096.52 A11.90,11.90 0 0 1 632.78,1098.78 Z" fill="#FF0000" stroke="none" stroke-width="1.0" stroke-linejoin="round"/>
<path d="M625.46,1108.16 L625.46,1096.26 A11.90,11.90 0 0 1 632.78,1098.78 Z" fill="none" stroke="#fff" stroke-width="1.0" stroke-linejoin="round"/>
<path d="M610.60,1164.30 L617.43,1154.55 A11.90,11.90 0 1 1 610.60,1152.40 Z" fill="#1E88FF" stroke="#fff" stroke-width="0.9" stroke-linejoin="round"/>
<path d="M610.93,1163.25 L610.93,1151.35 A11.90,11.90 0 0 1 612.59,1151.47 Z" fill="#0A7D0A" stroke="none" stroke-width="1.0" stroke-linejoin="round"/>
<path d="M610.93,1163.25 L612.59,1151.47 A11.90,11.90 0 0 1 617.76,1153.50 Z" fill="#FF0000" stroke="none" stroke-width="1.0" stroke-linejoin="round"/>
<path d="M610.93,1163.25 L610.93,1151.35 A11.90,11.90 0 0 1 617.76,1153.50 Z" fill="none" stroke="#fff" stroke-width="1.0" stroke-linejoin="round"/>
<path d="M594.10,1212.30 L604.19,1205.99 A11.90,11.90 0 1 1 594.10,1200.40 Z" fill="#1E88FF" stroke="#fff" stroke-width="0.9" stroke-linejoin="round"/>
<path d="M594.63,1211.34 L594.63,1199.44 A11.90,11.90 0 0 1 595.67,1199.48 Z" fill="#0A7D0A" stroke="none" stroke-width="1.0" stroke-linejoin="round"/>
<path d="M594.63,1211.34 L595.67,1199.48 A11.90,11.90 0 0 1 604.73,1205.03 Z" fill="#FF0000" stroke="none" stroke-width="1.0" stroke-linejoin="round"/>
<path d="M594.63,1211.34 L594.63,1199.44 A11.90,11.90 0 0 1 604.73,1205.03 Z" fill="none" stroke="#fff" stroke-width="1.0" stroke-linejoin="round"/>
<path d="M257.10,796.70 L259.33,785.21 A11.70,11.70 0 1 1 257.10,785.00 Z" fill="#1E88FF" stroke="#fff" stroke-width="0.9" stroke-linejoin="round"/>
<path d="M257.21,795.61 L257.21,783.91 A11.70,11.70 0 0 1 258.23,783.95 Z" fill="#0A7D0A" stroke="none" stroke-width="1.0" stroke-linejoin="round"/>
<path d="M257.21,795.61 L258.23,783.95 A11.70,11.70 0 0 1 259.44,784.12 Z" fill="#FF0000" stroke="none" stroke-width="1.0" stroke-linejoin="round"/>
<path d="M257.21,795.61 L257.21,783.91 A11.70,11.70 0 0 1 259.44,784.12 Z" fill="none" stroke="#fff" stroke-width="1.0" stroke-linejoin="round"/>
<path d="M354.40,809.70 L357.03,798.30 A11.70,11.70 0 1 1 354.40,798.00 Z" fill="#1E88FF" stroke="#fff" stroke-width="0.9" stroke-linejoin="round"/>
<path d="M354.52,808.61 L354.52,796.91 A11.70,11.70 0 0 1 354.93,796.91 Z" fill="#0A7D0A" stroke="none" stroke-width="1.0" stroke-linejoin="round"/>
<path d="M354.52,808.61 L354.93,796.91 A11.70,11.70 0 0 1 357.16,797.21 Z" fill="#FF0000" stroke="none" stroke-width="1.0" stroke-linejoin="round"/>
<path d="M354.52,808.61 L354.52,796.91 A11.70,11.70 0 0 1 357.16,797.21 Z" fill="none" stroke="#fff" stroke-width="1.0" stroke-linejoin="round"/>
<path d="M319.10,861.40 L321.53,849.96 A11.70,11.70 0 1 1 319.10,849.70 Z" fill="#1E88FF" stroke="#fff" stroke-width="0.9" stroke-linejoin="round"/>
<path d="M319.21,860.31 L319.21,848.61 A11.70,11.70 0 0 1 319.62,848.61 Z" fill="#0A7D0A" stroke="none" stroke-width="1.0" stroke-linejoin="round"/>
<path d="M319.21,860.31 L319.62,848.61 A11.70,11.70 0 0 1 321.65,848.86 Z" fill="#FF0000" stroke="none" stroke-width="1.0" stroke-linejoin="round"/>
<path d="M319.21,860.31 L319.21,848.61 A11.70,11.70 0 0 1 321.65,848.86 Z" fill="none" stroke="#fff" stroke-width="1.0" stroke-linejoin="round"/>
<path d="M188.90,893.80 L189.51,882.12 A11.70,11.70 0 1 1 188.90,882.10 Z" fill="#1E88FF" stroke="#fff" stroke-width="0.9" stroke-linejoin="round"/>
<path d="M188.93,892.70 L188.93,881.00 A11.70,11.70 0 0 1 189.13,881.00 Z" fill="#0A7D0A" stroke="none" stroke-width="1.0" stroke-linejoin="round"/>
<path d="M188.93,892.70 L189.13,881.00 A11.70,11.70 0 0 1 189.54,881.02 Z" fill="#FF0000" stroke="none" stroke-width="1.0" stroke-linejoin="round"/>
<path d="M188.93,892.70 L188.93,881.00 A11.70,11.70 0 0 1 189.54,881.02 Z" fill="none" stroke="#fff" stroke-width="1.0" stroke-linejoin="round"/>
<path d="M377.10,913.00 L379.93,901.65 A11.70,11.70 0 1 1 377.10,901.30 Z" fill="#1E88FF" stroke="#fff" stroke-width="0.9" stroke-linejoin="round"/>
<path d="M377.23,911.91 L377.23,900.21 A11.70,11.70 0 0 1 378.05,900.24 Z" fill="#0A7D0A" stroke="none" stroke-width="1.0" stroke-linejoin="round"/>
<path d="M377.23,911.91 L378.05,900.24 A11.70,11.70 0 0 1 380.06,900.56 Z" fill="#FF0000" stroke="none" stroke-width="1.0" stroke-linejoin="round"/>
<path d="M377.23,911.91 L377.23,900.21 A11.70,11.70 0 0 1 380.06,900.56 Z" fill="none" stroke="#fff" stroke-width="1.0" stroke-linejoin="round"/>
<path d="M153.80,967.70 L154.21,956.01 A11.70,11.70 0 1 1 153.80,956.00 Z" fill="#1E88FF" stroke="#fff" stroke-width="0.9" stroke-linejoin="round"/>
<path d="M153.82,966.60 L153.82,954.90 A11.70,11.70 0 0 1 153.92,954.90 Z" fill="#0A7D0A" stroke="none" stroke-width="1.0" stroke-linejoin="round"/>
<path d="M153.82,966.60 L153.92,954.90 A11.70,11.70 0 0 1 154.23,954.91 Z" fill="#FF0000" stroke="none" stroke-width="1.0" stroke-linejoin="round"/>
<path d="M153.82,966.60 L153.82,954.90 A11.70,11.70 0 0 1 154.23,954.91 Z" fill="none" stroke="#fff" stroke-width="1.0" stroke-linejoin="round"/>
<path d="M124.60,1044.00 L125.01,1032.31 A11.70,11.70 0 1 1 124.60,1032.30 Z" fill="#1E88FF" stroke="#fff" stroke-width="0.9" stroke-linejoin="round"/>
<path d="M124.62,1042.90 L124.62,1031.20 A11.70,11.70 0 0 1 124.72,1031.20 Z" fill="#0A7D0A" stroke="none" stroke-width="1.0" stroke-linejoin="round"/>
<path d="M124.62,1042.90 L124.72,1031.20 A11.70,11.70 0 0 1 125.03,1031.21 Z" fill="#FF0000" stroke="none" stroke-width="1.0" stroke-linejoin="round"/>
<path d="M124.62,1042.90 L124.62,1031.20 A11.70,11.70 0 0 1 125.03,1031.21 Z" fill="none" stroke="#fff" stroke-width="1.0" stroke-linejoin="round"/>
<path d="M199.40,1120.00 L206.92,1111.04 A11.70,11.70 0 1 1 199.40,1108.30 Z" fill="#1E88FF" stroke="#fff" stroke-width="0.9" stroke-linejoin="round"/>
<path d="M199.78,1118.97 L199.78,1107.27 A11.70,11.70 0 0 1 200.39,1107.28 Z" fill="#0A7D0A" stroke="none" stroke-width="1.0" stroke-linejoin="round"/>
<path d="M199.78,1118.97 L200.39,1107.28 A11.70,11.70 0 0 1 206.15,1109.15 Z" fill="#FF0000" stroke="none" stroke-width="1.0" stroke-linejoin="round"/>
<path d="M199.78,1118.97 L199.78,1107.27 A11.70,11.70 0 0 1 206.15,1109.15 Z" fill="none" stroke="#fff" stroke-width="1.0" stroke-linejoin="round"/>
<rect x="626.3" y="1121.8" width="157.1" height="142.3" fill="none" stroke="#111" stroke-width="1.6"/>
<circle cx="696.1" cy="1177.3" r="41.3" fill="#1E88FF"/>
<path d="M696.1,1177.3 L696.1,1136.0 A41.3,41.3 0 1 1 673.61,1211.94 Z" fill="#FFA000" stroke="#fff" stroke-width="1"/>
<text x="624.8" y="1239.2" font-size="17.38" fill="#000" style="" textLength="154.9" lengthAdjust="spacingAndGlyphs">combined change</text>
<text x="635.0" y="1260.9" font-size="17.38" fill="#000" style="" textLength="133.9" lengthAdjust="spacingAndGlyphs">across lineages</text>
<text x="638.3" y="818.5" font-size="23.31" fill="#000" style="" textLength="153.0" lengthAdjust="spacingAndGlyphs">Gene families</text>
<text x="600.3" y="841.5" font-size="23" textLength="253.4" lengthAdjust="spacingAndGlyphs"><tspan fill="#007F00">Expansion</tspan><tspan fill="#1E90FF">/</tspan><tspan fill="#FF0000">Contraction</tspan></text>
<text x="862.9" y="782.6" font-size="23.17" fill="#000" style="" textLength="22.0" lengthAdjust="spacingAndGlyphs">d)</text>
<line x1="1071.9" y1="786.2" x2="1235.5" y2="786.2" stroke="#000" stroke-width="2.0" stroke-linecap="square"/>
<line x1="1071.9" y1="786.2" x2="1071.9" y2="897.7" stroke="#000" stroke-width="2.0" stroke-linecap="square"/>
<line x1="1071.9" y1="897.7" x2="1121.1" y2="897.7" stroke="#000" stroke-width="2.0" stroke-linecap="square"/>
<line x1="1121.1" y1="853.6" x2="1121.1" y2="942.8" stroke="#000" stroke-width="2.0" stroke-linecap="square"/>
<line x1="1121.1" y1="853.6" x2="1151.4" y2="853.6" stroke="#000" stroke-width="2.0" stroke-linecap="square"/>
<line x1="1151.4" y1="830.9" x2="1151.4" y2="876.0" stroke="#000" stroke-width="2.0" stroke-linecap="square"/>
<line x1="1151.4" y1="830.9" x2="1235.5" y2="830.9" stroke="#000" stroke-width="2.0" stroke-linecap="square"/>
<line x1="1151.4" y1="876.0" x2="1235.5" y2="876.0" stroke="#000" stroke-width="2.0" stroke-linecap="square"/>
<line x1="1121.1" y1="942.8" x2="1199.9" y2="942.8" stroke="#000" stroke-width="2.0" stroke-linecap="square"/>
<line x1="1199.9" y1="920.1" x2="1199.9" y2="965.4" stroke="#000" stroke-width="2.0" stroke-linecap="square"/>
<line x1="1199.9" y1="920.1" x2="1235.5" y2="920.1" stroke="#000" stroke-width="2.0" stroke-linecap="square"/>
<line x1="1199.9" y1="965.4" x2="1235.5" y2="965.4" stroke="#000" stroke-width="2.0" stroke-linecap="square"/>
<line x1="985.7" y1="843.0" x2="985.7" y2="1009.6" stroke="#000" stroke-width="2.0" stroke-linecap="square"/>
<line x1="985.7" y1="843.0" x2="1071.9" y2="843.0" stroke="#000" stroke-width="2.0" stroke-linecap="square"/>
<line x1="985.7" y1="1009.6" x2="1235.5" y2="1009.6" stroke="#000" stroke-width="2.0" stroke-linecap="square"/>
<line x1="925.7" y1="926.6" x2="985.7" y2="926.6" stroke="#000" stroke-width="2.0" stroke-linecap="square"/>
<line x1="925.7" y1="926.6" x2="925.7" y2="1055.0" stroke="#000" stroke-width="2.0" stroke-linecap="square"/>
<line x1="925.7" y1="1055.0" x2="1235.5" y2="1055.0" stroke="#000" stroke-width="2.0" stroke-linecap="square"/>
<line x1="909.5" y1="990.7" x2="925.7" y2="990.7" stroke="#000" stroke-width="2.0" stroke-linecap="square"/>
<line x1="909.5" y1="990.7" x2="909.5" y2="1121.4" stroke="#000" stroke-width="2.0" stroke-linecap="square"/>
<line x1="909.5" y1="1121.4" x2="1023.5" y2="1121.4" stroke="#000" stroke-width="2.0" stroke-linecap="square"/>
<line x1="1023.5" y1="1098.5" x2="1023.5" y2="1144.3" stroke="#000" stroke-width="2.0" stroke-linecap="square"/>
<line x1="1023.5" y1="1098.5" x2="1235.5" y2="1098.5" stroke="#000" stroke-width="2.0" stroke-linecap="square"/>
<line x1="1023.5" y1="1144.3" x2="1235.5" y2="1144.3" stroke="#000" stroke-width="2.0" stroke-linecap="square"/>
<line x1="861.8" y1="1055.9" x2="909.5" y2="1055.9" stroke="#000" stroke-width="2.0" stroke-linecap="square"/>
<line x1="861.8" y1="1055.9" x2="861.8" y2="1188.1" stroke="#000" stroke-width="2.0" stroke-linecap="square"/>
<line x1="861.8" y1="1188.1" x2="1235.5" y2="1188.1" stroke="#000" stroke-width="2.0" stroke-linecap="square"/>
<line x1="821.5" y1="1121.4" x2="861.8" y2="1121.4" stroke="#000" stroke-width="2.0" stroke-linecap="square"/>
<circle cx="925.7" cy="990.7" r="4.6" fill="#800000"/>
<circle cx="1151.4" cy="853.6" r="4.6" fill="#800000"/>
<text x="1081.3" y="836.8" font-size="25.57" fill="#0A3FA0" style="" textLength="172.0" lengthAdjust="spacingAndGlyphs">36.3(32.3-41.8)</text>
<text x="1155.7" y="864.2" font-size="25.57" fill="#0A3FA0" style="" textLength="172.6" lengthAdjust="spacingAndGlyphs">18.8(17.2-22.5)</text>
<text x="1126.8" y="904.4" font-size="25.57" fill="#0A3FA0" style="" textLength="170.8" lengthAdjust="spacingAndGlyphs">25.5(22.5-30.8)</text>
<text x="989.5" y="932.5" font-size="25.29" fill="#0A3FA0" style="" textLength="172.1" lengthAdjust="spacingAndGlyphs">55.8(49.3-60.6)</text>
<text x="1204.8" y="949.0" font-size="21.29" fill="#0A3FA0" style="" textLength="122.0" lengthAdjust="spacingAndGlyphs">7.9(3.1-15.4)</text>
<text x="930.7" y="996.6" font-size="25.14" fill="#0A3FA0" style="" textLength="170.5" lengthAdjust="spacingAndGlyphs">68.9(63.6-71.3)</text>
<text x="914.5" y="1081.6" font-size="26.29" fill="#0A3FA0" style="" textLength="171.8" lengthAdjust="spacingAndGlyphs">72.7(67.0-76.3)</text>
<text x="1028.1" y="1128.3" font-size="26.14" fill="#0A3FA0" style="" textLength="171.4" lengthAdjust="spacingAndGlyphs">47.2(31.2-59.5)</text>
<text x="865.9" y="1148.9" font-size="22.86" fill="#0A3FA0" style="" textLength="163.1" lengthAdjust="spacingAndGlyphs">83.3(70.8-100.7)</text>
<text x="1262.8" y="795.7" font-size="23.72" fill="#000" style="font-style:italic;" textLength="127.1" lengthAdjust="spacingAndGlyphs">R. tarandus</text>
<text x="1262.8" y="839.8" font-size="23.86" fill="#000" style="font-style:italic;" textLength="95.2" lengthAdjust="spacingAndGlyphs">C. hircus</text>
<text x="1262.8" y="884.4" font-size="23.03" fill="#000" style="font-style:italic;" textLength="83.4" lengthAdjust="spacingAndGlyphs">O. aries</text>
<text x="1262.8" y="930.3" font-size="23.45" fill="#000" style="font-style:italic;" textLength="139.0" lengthAdjust="spacingAndGlyphs">B. grunniens</text>
<text x="1262.8" y="974.3" font-size="23.84" fill="#000" style="font-style:italic;" textLength="99.1" lengthAdjust="spacingAndGlyphs">B. taurus</text>
<text x="1262.8" y="1019.0" font-size="22.62" fill="#000" style="font-style:italic;" textLength="168.8" lengthAdjust="spacingAndGlyphs">C. dromedarius</text>
<text x="1262.8" y="1063.2" font-size="24.00" fill="#000" style="font-style:italic;" textLength="117.6" lengthAdjust="spacingAndGlyphs">E. caballus</text>
<text x="1262.8" y="1107.7" font-size="23.72" fill="#000" style="font-style:italic;" textLength="141.9" lengthAdjust="spacingAndGlyphs">U. maritimus</text>
<text x="1262.8" y="1152.1" font-size="23.72" fill="#000" style="font-style:italic;" textLength="130.0" lengthAdjust="spacingAndGlyphs">C. familiaris</text>
<text x="1262.8" y="1197.0" font-size="23.72" fill="#000" style="font-style:italic;" textLength="114.0" lengthAdjust="spacingAndGlyphs">H. sapiens</text>
<line x1="862.0" y1="1233.4" x2="1235.3" y2="1233.4" stroke="#000" stroke-width="2.2"/>
<line x1="1235.3" y1="1224.9" x2="1235.3" y2="1233.4" stroke="#000" stroke-width="1.8"/>
<line x1="1212.9" y1="1228.9" x2="1212.9" y2="1233.4" stroke="#000" stroke-width="1.8"/>
<line x1="1190.5" y1="1228.9" x2="1190.5" y2="1233.4" stroke="#000" stroke-width="1.8"/>
<line x1="1168.1" y1="1228.9" x2="1168.1" y2="1233.4" stroke="#000" stroke-width="1.8"/>
<line x1="1145.7" y1="1224.9" x2="1145.7" y2="1233.4" stroke="#000" stroke-width="1.8"/>
<line x1="1123.3" y1="1228.9" x2="1123.3" y2="1233.4" stroke="#000" stroke-width="1.8"/>
<line x1="1100.9" y1="1228.9" x2="1100.9" y2="1233.4" stroke="#000" stroke-width="1.8"/>
<line x1="1078.5" y1="1228.9" x2="1078.5" y2="1233.4" stroke="#000" stroke-width="1.8"/>
<line x1="1056.1" y1="1224.9" x2="1056.1" y2="1233.4" stroke="#000" stroke-width="1.8"/>
<line x1="1033.7" y1="1228.9" x2="1033.7" y2="1233.4" stroke="#000" stroke-width="1.8"/>
<line x1="1011.3" y1="1228.9" x2="1011.3" y2="1233.4" stroke="#000" stroke-width="1.8"/>
<line x1="988.9" y1="1228.9" x2="988.9" y2="1233.4" stroke="#000" stroke-width="1.8"/>
<line x1="966.5" y1="1224.9" x2="966.5" y2="1233.4" stroke="#000" stroke-width="1.8"/>
<line x1="944.1" y1="1228.9" x2="944.1" y2="1233.4" stroke="#000" stroke-width="1.8"/>
<line x1="921.7" y1="1228.9" x2="921.7" y2="1233.4" stroke="#000" stroke-width="1.8"/>
<line x1="899.3" y1="1228.9" x2="899.3" y2="1233.4" stroke="#000" stroke-width="1.8"/>
<line x1="876.9" y1="1224.9" x2="876.9" y2="1233.4" stroke="#000" stroke-width="1.8"/>
<text x="869.8" y="1257.3" font-size="26.71" fill="#000" style="" textLength="26.7" lengthAdjust="spacingAndGlyphs">80</text>
<text x="960.0" y="1257.3" font-size="26.71" fill="#000" style="" textLength="25.9" lengthAdjust="spacingAndGlyphs">60</text>
<text x="1049.5" y="1257.3" font-size="26.71" fill="#000" style="" textLength="26.1" lengthAdjust="spacingAndGlyphs">40</text>
<text x="1139.2" y="1257.3" font-size="26.71" fill="#000" style="" textLength="26.0" lengthAdjust="spacingAndGlyphs">20</text>
<text x="1232.0" y="1257.3" font-size="26.71" fill="#000" style="" textLength="12.0" lengthAdjust="spacingAndGlyphs">0</text>
<text x="1241.6" y="1233.8" font-size="24.28" fill="#000" style="" textLength="185.7" lengthAdjust="spacingAndGlyphs">Million years ago</text>
</svg></body></html>
